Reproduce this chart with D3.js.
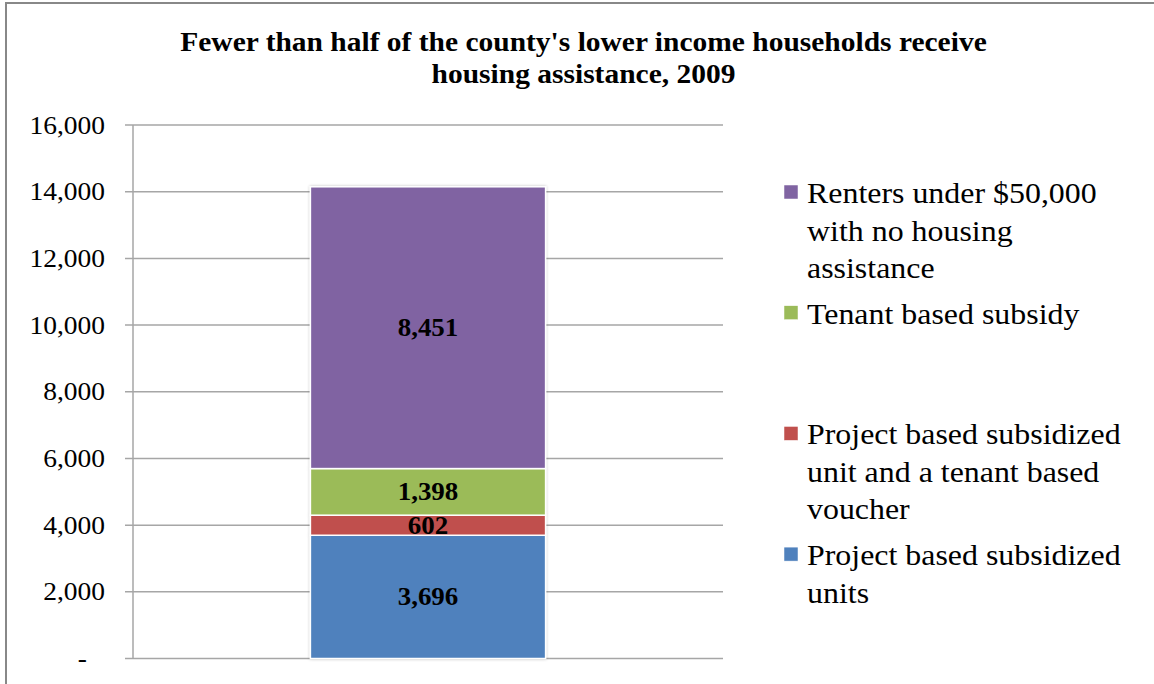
<!DOCTYPE html>
<html>
<head>
<meta charset="utf-8">
<script src="https://cdn.jsdelivr.net/npm/d3@7"></script>
<style>
  html, body { margin: 0; padding: 0; background: #fff; }
  svg { display: block; font-family: "Liberation Serif", "Times New Roman", serif; }
</style>
</head>
<body>
<div id="chart"></div>
<script>
// data, bottom to top of the stack
const seriesNames = [
  "Project based subsidized units",
  "Project based subsidized unit and a tenant based voucher",
  "Tenant based subsidy",
  "Renters under $50,000 with no housing assistance"
];
const seriesValues = [3696, 602, 1398, 8451];
const seriesColors = ["#4F81BD", "#C0504D", "#9BBB59", "#8064A2"];
// legend lines as wrapped in the picture, top to bottom
const legendLines = [
  ["Renters under $50,000", "with no housing", "assistance"],
  ["Tenant based subsidy"],
  ["Project based subsidized", "unit and a tenant based", "voucher"],
  ["Project based subsidized", "units"]
];
const legendColors = ["#8064A2", "#9BBB59", "#C0504D", "#4F81BD"];
const yTicks = [0, 2000, 4000, 6000, 8000, 10000, 12000, 14000, 16000];
const yTickLabels = ["-", "2,000", "4,000", "6,000", "8,000", "10,000", "12,000", "14,000", "16,000"];
const titleLines = ["Fewer than half of the county's lower income households receive", "housing assistance, 2009"];

const W = 1154, H = 684;
const margin = {top: 125, right: 431, bottom: 25.5, left: 133};
const xStretch = 1.1; // the picture's text is a bit wider than the font

const svg = d3.select("#chart").append("svg")
    .attr("width", W).attr("height", H);

function stretch(sel) {
  sel.each(function () {
    const l = this.getComputedTextLength();
    d3.select(this).attr("textLength", l * xStretch).attr("lengthAdjust", "spacingAndGlyphs");
  });
}

// outer frame (right and bottom edges are cut off)
svg.append("rect")
    .attr("x", 6).attr("y", 3).attr("width", W + 20).attr("height", H + 20)
    .attr("fill", "none").attr("stroke", "#888").attr("stroke-width", 2);

// title
svg.append("g").selectAll("text")
    .data(titleLines).enter().append("text")
    .attr("x", 583.5)
    .attr("y", (d, i) => 51 + i * 32)
    .attr("text-anchor", "middle")
    .attr("font-weight", "bold")
    .attr("font-size", 26.8)
    .attr("fill", "#000")
    .text(d => d)
    .call(stretch);

const innerW = W - margin.left - margin.right,
      innerH = H - margin.top - margin.bottom;

const g = svg.append("g")
    .attr("transform", "translate(" + margin.left + "," + margin.top + ")");

const x = d3.scaleBand()
    .domain(["2009"])
    .range([0, innerW])
    .padding(0.43);

const y = d3.scaleLinear()
    .domain([0, 16000])
    .range([innerH, 0]);

// gridlines
g.selectAll(".grid")
    .data(yTicks).enter().append("line")
    .attr("class", "grid")
    .attr("x1", -8).attr("x2", innerW)
    .attr("y1", d => y(d)).attr("y2", d => y(d))
    .attr("stroke", "#a6a6a6").attr("stroke-width", 1.5);

// vertical axis line
g.append("line")
    .attr("x1", 0).attr("x2", 0)
    .attr("y1", y(16000)).attr("y2", y(0))
    .attr("stroke", "#a6a6a6").attr("stroke-width", 1.5);

// tick labels
g.selectAll(".ylab")
    .data(yTicks).enter().append("text")
    .attr("class", "ylab")
    .attr("x", (d, i) => i === 0 ? -46 : -28)
    .attr("y", d => y(d) + 8.5)
    .attr("text-anchor", "end")
    .attr("font-size", 25)
    .attr("fill", "#000")
    .text((d, i) => yTickLabels[i])
    .call(stretch);

// stack
const stackData = [];
let acc = 0;
seriesValues.forEach((v, i) => {
  stackData.push({name: seriesNames[i], value: v, y0: acc, y1: acc + v, color: seriesColors[i]});
  acc += v;
});

const defs = svg.append("defs");
const f = defs.append("filter").attr("id", "shadow")
    .attr("x", "-10%").attr("y", "-10%").attr("width", "120%").attr("height", "120%");
f.append("feGaussianBlur").attr("in", "SourceAlpha").attr("stdDeviation", 1.5);
f.append("feComponentTransfer").append("feFuncA").attr("type", "linear").attr("slope", 0.25);
const fm = f.append("feMerge");
fm.append("feMergeNode");
fm.append("feMergeNode").attr("in", "SourceGraphic");

const bar = g.append("g").attr("filter", "url(#shadow)");
bar.selectAll("rect")
    .data(stackData).enter().append("rect")
    .attr("x", x("2009"))
    .attr("width", x.bandwidth())
    .attr("y", d => y(d.y1))
    .attr("height", d => y(d.y0) - y(d.y1))
    .attr("fill", d => d.color)
    .attr("stroke", "#fff").attr("stroke-width", 1.5);

g.selectAll(".vlab")
    .data(stackData).enter().append("text")
    .attr("class", "vlab")
    .attr("x", x("2009") + x.bandwidth() / 2)
    .attr("y", d => y((d.y0 + d.y1) / 2) + 8.5)
    .attr("text-anchor", "middle")
    .attr("font-weight", "bold")
    .attr("font-size", 24.5)
    .attr("fill", "#000")
    .text(d => d3.format(",")(d.value))
    .call(stretch);

// legend
const legend = svg.append("g").attr("transform", "translate(784,0)");
const items = legend.selectAll("g")
    .data(legendLines).enter().append("g")
    .attr("transform", (d, i) => "translate(0," + (193 + i * 120.7) + ")");
items.append("rect")
    .attr("x", 0).attr("y", -8).attr("width", 14).attr("height", 14)
    .attr("fill", (d, i) => legendColors[i])
    .attr("stroke", "#fff").attr("stroke-width", 0.5);
items.selectAll("text")
    .data(d => d).enter().append("text")
    .attr("x", 23)
    .attr("y", (d, j) => 10 + j * 37.5)
    .attr("font-size", 29)
    .attr("fill", "#000")
    .text(d => d)
    .call(stretch);
</script>
</body>
</html>
